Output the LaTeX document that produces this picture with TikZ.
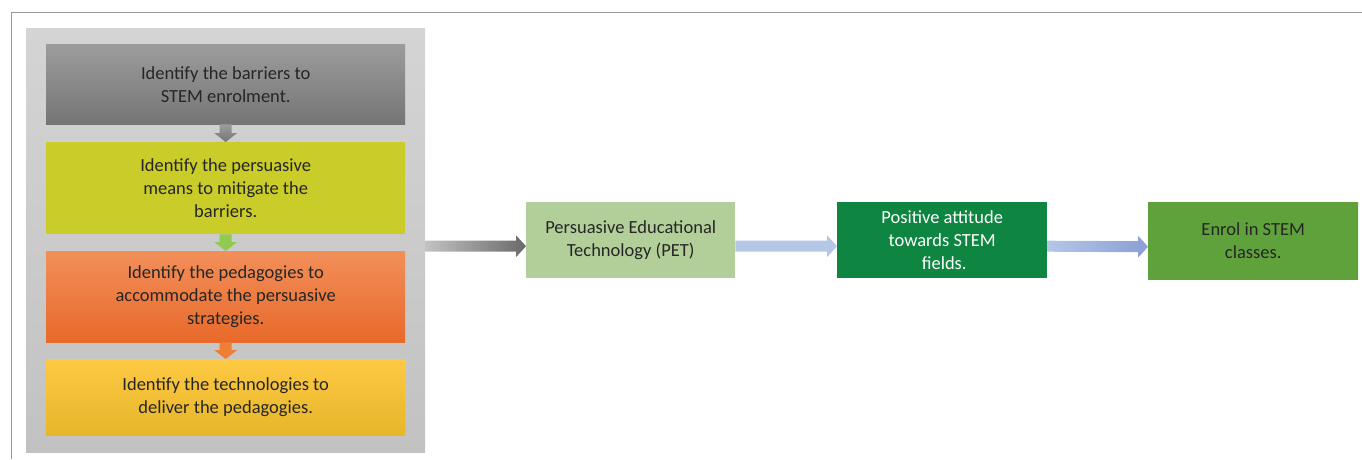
\documentclass[tikz,border=0pt]{standalone}
\usepackage{fontspec}
\setmainfont{Carlito}
\usetikzlibrary{calc}

\definecolor{framegray}{HTML}{9A9A9A}
\definecolor{paneltop}{HTML}{D4D4D4}
\definecolor{panelbot}{HTML}{C2C2C2}
\definecolor{greytop}{HTML}{9C9C9C}
\definecolor{greybot}{HTML}{757575}
\definecolor{lime}{HTML}{C9CC29}
\definecolor{orangetop}{HTML}{F28F5A}
\definecolor{orangebot}{HTML}{E8692A}
\definecolor{goldtop}{HTML}{FEC943}
\definecolor{goldmid}{HTML}{FCC412}
\definecolor{goldbot}{HTML}{E6B62B}
\definecolor{petgreen}{HTML}{B3CF99}
\definecolor{darkgreen}{HTML}{0E8540}
\definecolor{enroledge}{HTML}{5FA13B}
\definecolor{enrolmid}{HTML}{84BE62}
\definecolor{lightblue}{HTML}{B4C7E7}
\definecolor{deepblue}{HTML}{8A9FD5}
\definecolor{arrowgreen}{HTML}{92C950}
\definecolor{arroworange}{HTML}{EE7D35}
\definecolor{txt}{HTML}{262626}

\tikzset{
  stepbox/.style={rectangle, inner sep=0pt, anchor=north west, align=center,
    text=txt, font=\fontsize{18.5}{23}\selectfont},
}

% horizontal block arrow from the east side of #2 to the west side of #3
\newcommand\hblockarrow[3]{%
  \path[#1] ($(#2.east)+(0,0.5)$) -- ($(#3.west)+(-10,0.5)$) -- ($(#3.west)+(-10,-5)$)
    -- ($(#3.west)+(0,6)$) -- ($(#3.west)+(-10,17)$) -- ($(#3.west)+(-10,11.5)$)
    -- ($(#2.east)+(0,11.5)$) -- cycle;}
% vertical block arrow from the south side of #2 to the north side of #3
\newcommand\vblockarrow[3]{%
  \path[#1] ($(#2.south)+(-6,0)$) -- ($(#3.north)+(-6,-9)$) -- ($(#3.north)+(-11.5,-9)$)
    -- (#3.north) -- ($(#3.north)+(11.5,-9)$) -- ($(#3.north)+(6,-9)$)
    -- ($(#2.south)+(6,0)$) -- cycle;}

\begin{document}
\begin{tikzpicture}[x=1pt,y=-1pt]
\useasboundingbox (0,0) rectangle (1362,459);

% outer frame (top and left edges)
\draw[framegray, line width=1.5pt] (11.5,459) -- (11.5,12.5) -- (1362,12.5);

% grey panel holding the four steps
\shade[top color=paneltop, bottom color=panelbot] (26,28) rectangle (425,452);
\node[inner sep=0pt, minimum width=399pt, minimum height=424pt, anchor=north west] (panel) at (26,28) {};

% step boxes
\shade[top color=greytop, bottom color=greybot] (46,44) rectangle (405,124);
\node[stepbox, minimum width=359pt, minimum height=80pt] (s1) at (46,44)
  {Identify the barriers to\\STEM enrolment.};

\fill[lime] (46,142) rectangle (405,234);
\node[stepbox, minimum width=359pt, minimum height=92pt] (s2) at (46,142)
  {Identify the persuasive\\means to mitigate the\\barriers.};

\shade[top color=orangetop, bottom color=orangebot] (46,251) rectangle (405,342);
\node[stepbox, minimum width=359pt, minimum height=91pt] (s3) at (46,251)
  {Identify the pedagogies to\\accommodate the persuasive\\strategies.};

\shade[top color=goldtop, middle color=goldmid, bottom color=goldbot] (46,359) rectangle (405,435);
\node[stepbox, minimum width=359pt, minimum height=76pt] (s4) at (46,359)
  {Identify the technologies to\\deliver the pedagogies.};

% arrows between the steps
\vblockarrow{shade, top color=greytop, bottom color=greybot}{s1}{s2}
\vblockarrow{fill=arrowgreen}{s2}{s3}
\vblockarrow{fill=arroworange}{s3}{s4}

% outcome chain
\fill[petgreen] (526,202) rectangle (735,278);
\node[stepbox, minimum width=209pt, minimum height=76pt] (pet) at (526,202)
  {Persuasive Educational\\Technology (PET)};

\fill[darkgreen] (837,202) rectangle (1047,278);
\node[stepbox, text=white, minimum width=210pt, minimum height=76pt] (pos) at (837,202)
  {Positive attitude\\towards STEM\\\hspace*{4pt}fields.};

\shade[left color=enroledge, middle color=enrolmid, right color=enroledge] (1148,202) rectangle (1358,279);
\node[stepbox, minimum width=210pt, minimum height=77pt] (enrol) at (1148,202)
  {Enrol in STEM\\classes.};

\hblockarrow{shade, left color=panelbot, right color=greybot!90!black}{panel}{pet}
\hblockarrow{fill=lightblue}{pet}{pos}
\hblockarrow{shade, left color=lightblue, right color=deepblue}{pos}{enrol}
\end{tikzpicture}
\end{document}
